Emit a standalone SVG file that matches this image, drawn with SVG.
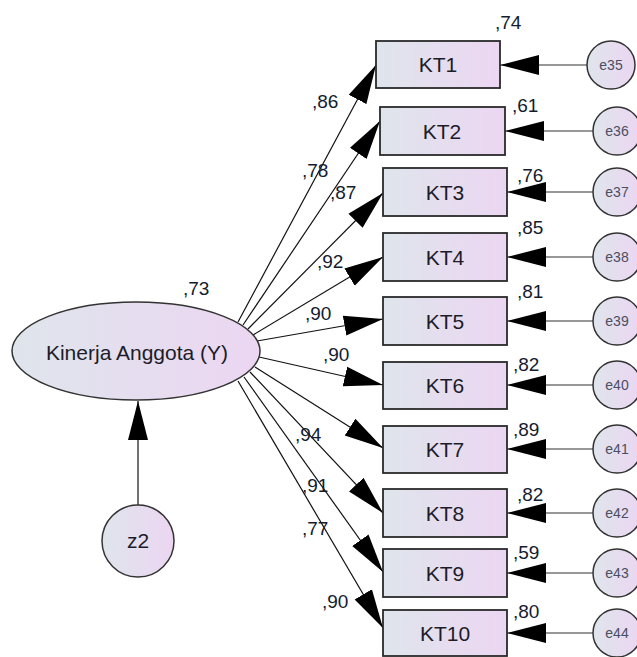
<svg xmlns="http://www.w3.org/2000/svg" width="637" height="657" viewBox="0 0 637 657">
<defs>
<linearGradient id="g" x1="0" y1="0" x2="1" y2="0">
<stop offset="0" stop-color="#dfe5ec"/>
<stop offset="1" stop-color="#ecd6f2"/>
</linearGradient>
<marker id="ah" markerUnits="userSpaceOnUse" markerWidth="40" markerHeight="22" refX="39" refY="10" orient="auto" viewBox="0 0 40 20">
<path d="M0,0 L39,10 L0,20 z" fill="#000"/>
</marker>
<style>
.bx{fill:url(#g);stroke:#2a2a2a;stroke-width:1.8}
.ci{fill:url(#g);stroke:#333;stroke-width:1.5}
.ln{stroke:#111;stroke-width:1.2;fill:none;marker-end:url(#ah)}
.el{stroke:#333;stroke-width:1.2;fill:none;marker-end:url(#ah)}
.kt{font-family:"Liberation Sans",Arial,sans-serif;font-size:21px;fill:#1c1c28;text-anchor:middle}
.et{font-family:"Liberation Sans",Arial,sans-serif;font-size:14px;fill:#4a4e62;text-anchor:middle}
.lb{font-family:"Liberation Sans",Arial,sans-serif;font-size:19px;fill:#141c30}
</style>
</defs>
<rect width="637" height="657" fill="#fff"/>
<g id="connectors">
<line class="ln" x1="238" y1="322" x2="376" y2="65"/>
<line class="ln" x1="243" y1="325" x2="380" y2="121"/>
<line class="ln" x1="248" y1="329" x2="383" y2="193"/>
<line class="ln" x1="253" y1="335" x2="383" y2="257"/>
<line class="ln" x1="257" y1="341" x2="383" y2="319"/>
<line class="ln" x1="259" y1="357" x2="383" y2="385"/>
<line class="ln" x1="255" y1="367" x2="383" y2="448"/>
<line class="ln" x1="250" y1="372" x2="383" y2="513"/>
<line class="ln" x1="244" y1="377" x2="383" y2="572"/>
<line class="ln" x1="238" y1="381" x2="383" y2="628"/>
<line class="ln" x1="138" y1="505" x2="138" y2="401"/>
<line class="el" x1="587" y1="65" x2="500" y2="65"/>
<line class="el" x1="593" y1="131" x2="505" y2="131"/>
<line class="el" x1="593" y1="192" x2="507" y2="192"/>
<line class="el" x1="593" y1="257" x2="507" y2="257"/>
<line class="el" x1="593" y1="321" x2="507" y2="321"/>
<line class="el" x1="593" y1="385" x2="507" y2="385"/>
<line class="el" x1="593" y1="449" x2="507" y2="449"/>
<line class="el" x1="593" y1="513" x2="507" y2="513"/>
<line class="el" x1="593" y1="573" x2="507" y2="573"/>
<line class="el" x1="593" y1="633" x2="507" y2="633"/>
</g>
<g id="Y">
<ellipse class="ci" cx="136" cy="351" rx="124" ry="49"/>
<text class="kt" x="137" y="360" font-size="22">Kinerja Anggota (Y)</text>
<text class="lb" x="183" y="295">,73</text>
</g>
<g id="z2">
<circle class="ci" cx="138" cy="541" r="36"/>
<text class="kt" x="138" y="548" font-size="20">z2</text>
</g>
<g id="KT1"><rect class="bx" x="376" y="41" width="124" height="47"/><text class="kt" x="438" y="72">KT1</text><text class="lb" x="495" y="29">,74</text></g>
<g id="KT2"><rect class="bx" x="380" y="107" width="125" height="48"/><text class="kt" x="442" y="139">KT2</text><text class="lb" x="512" y="112">,61</text></g>
<g id="KT3"><rect class="bx" x="383" y="168" width="124" height="48"/><text class="kt" x="445" y="200">KT3</text><text class="lb" x="517" y="182">,76</text></g>
<g id="KT4"><rect class="bx" x="383" y="233" width="124" height="48"/><text class="kt" x="445" y="265">KT4</text><text class="lb" x="517" y="234">,85</text></g>
<g id="KT5"><rect class="bx" x="383" y="297" width="124" height="48"/><text class="kt" x="445" y="329">KT5</text><text class="lb" x="517" y="298">,81</text></g>
<g id="KT6"><rect class="bx" x="383" y="362" width="124" height="47"/><text class="kt" x="445" y="393">KT6</text><text class="lb" x="513" y="371">,82</text></g>
<g id="KT7"><rect class="bx" x="383" y="426" width="124" height="47"/><text class="kt" x="445" y="457">KT7</text><text class="lb" x="513" y="436">,89</text></g>
<g id="KT8"><rect class="bx" x="383" y="489" width="124" height="48"/><text class="kt" x="445" y="521">KT8</text><text class="lb" x="517" y="501">,82</text></g>
<g id="KT9"><rect class="bx" x="383" y="549" width="124" height="48"/><text class="kt" x="445" y="581">KT9</text><text class="lb" x="513" y="559">,59</text></g>
<g id="KT10"><rect class="bx" x="383" y="610" width="124" height="46"/><text class="kt" x="445" y="641">KT10</text><text class="lb" x="513" y="618">,80</text></g>
<g id="e35"><circle class="ci" cx="611" cy="65" r="24"/><text class="et" x="611" y="70">e35</text></g>
<g id="e36"><circle class="ci" cx="617" cy="131" r="24"/><text class="et" x="617" y="136">e36</text></g>
<g id="e37"><circle class="ci" cx="617" cy="192" r="24"/><text class="et" x="617" y="197">e37</text></g>
<g id="e38"><circle class="ci" cx="617" cy="257" r="24"/><text class="et" x="617" y="262">e38</text></g>
<g id="e39"><circle class="ci" cx="617" cy="321" r="24"/><text class="et" x="617" y="326">e39</text></g>
<g id="e40"><circle class="ci" cx="617" cy="385" r="24"/><text class="et" x="617" y="390">e40</text></g>
<g id="e41"><circle class="ci" cx="617" cy="449" r="24"/><text class="et" x="617" y="454">e41</text></g>
<g id="e42"><circle class="ci" cx="617" cy="513" r="24"/><text class="et" x="617" y="518">e42</text></g>
<g id="e43"><circle class="ci" cx="617" cy="573" r="24"/><text class="et" x="617" y="578">e43</text></g>
<g id="e44"><circle class="ci" cx="617" cy="633" r="24"/><text class="et" x="617" y="638">e44</text></g>
<g id="path-labels">
<text class="lb" x="312" y="108">,86</text>
<text class="lb" x="302" y="177">,78</text>
<text class="lb" x="330" y="199">,87</text>
<text class="lb" x="317" y="268">,92</text>
<text class="lb" x="305" y="320">,90</text>
<text class="lb" x="323" y="361">,90</text>
<text class="lb" x="295" y="441">,94</text>
<text class="lb" x="302" y="492">,91</text>
<text class="lb" x="302" y="535">,77</text>
<text class="lb" x="322" y="608">,90</text>
</g>
</svg>
